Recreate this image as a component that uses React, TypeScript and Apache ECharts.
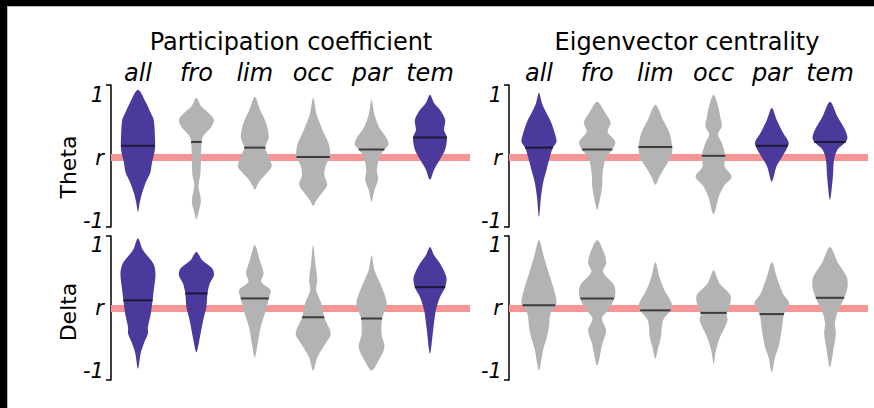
import React, { useEffect, useRef } from "react";
import * as echarts from "echarts";

const categories = ["all", "fro", "lim", "occ", "par", "tem"];
const panelTitles = ["Participation coefficient", "Eigenvector centrality"];
const rowNames = ["Theta", "Delta"];
const yTickValues = [-1, 0, 1];
const yTickLabels = ["-1", "r", "1"];
const referenceR = 0;

// Violin outlines: [r value, half width in category units], top -> bottom
// Theta, participation coefficient
const thetaPartAll = [[1.08, 0], [0.87, 0.14], [0.71, 0.22], [0.6, 0.27], [0.33, 0.29], [0.13, 0.29], [-0.08, 0.24], [-0.24, 0.21], [-0.4, 0.13], [-0.56, 0.07], [-0.71, 0.03], [-0.86, 0]];
const thetaPartFro = [[0.95, 0], [0.82, 0.08], [0.7, 0.22], [0.6, 0.3], [0.48, 0.25], [0.35, 0.12], [0.25, 0.09], [0.05, 0.08], [-0.25, 0.07], [-0.45, 0.035], [-0.62, 0.07], [-0.72, 0.075], [-0.85, 0.04], [-0.98, 0]];
const thetaPartLim = [[0.97, 0], [0.76, 0.09], [0.56, 0.19], [0.33, 0.24], [0.16, 0.18], [0.02, 0.24], [-0.14, 0.29], [-0.24, 0.21], [-0.35, 0.1], [-0.46, 0.03], [-0.51, 0]];
const thetaPartOcc = [[0.95, 0], [0.68, 0.06], [0.44, 0.16], [0.21, 0.27], [0.02, 0.29], [-0.11, 0.22], [-0.27, 0.19], [-0.43, 0.24], [-0.56, 0.15], [-0.67, 0.06], [-0.76, 0]];
const thetaPartPar = [[0.92, 0], [0.68, 0.05], [0.48, 0.13], [0.32, 0.25], [0.21, 0.29], [0.13, 0.22], [0.02, 0.14], [-0.19, 0.09], [-0.35, 0.11], [-0.51, 0.05], [-0.7, 0]];
const thetaPartTem = [[1.0, 0], [0.87, 0.07], [0.76, 0.17], [0.6, 0.26], [0.44, 0.24], [0.32, 0.29], [0.13, 0.26], [-0.03, 0.17], [-0.19, 0.07], [-0.35, 0]];
const thetaPartMedian = [0.19, 0.25, 0.16, 0.01, 0.13, 0.32];
const thetaPartSig = [1, 0, 0, 0, 0, 1];

// Theta, eigenvector centrality
const thetaEigAll = [[1.03, 0], [0.87, 0.05], [0.76, 0.1], [0.56, 0.21], [0.33, 0.29], [0.25, 0.3], [0.16, 0.24], [0.02, 0.19], [-0.19, 0.13], [-0.4, 0.07], [-0.62, 0.035], [-0.94, 0]];
const thetaEigFro = [[0.89, 0], [0.71, 0.14], [0.56, 0.23], [0.41, 0.18], [0.25, 0.31], [0.13, 0.26], [0.0, 0.15], [-0.14, 0.11], [-0.3, 0.09], [-0.46, 0.085], [-0.62, 0.055], [-0.83, 0]];
const thetaEigLim = [[0.84, 0], [0.6, 0.13], [0.4, 0.24], [0.17, 0.29], [0.02, 0.27], [-0.14, 0.17], [-0.3, 0.07], [-0.43, 0]];
const thetaEigOcc = [[1.0, 0], [0.81, 0.08], [0.65, 0.115], [0.49, 0.14], [0.37, 0.075], [0.24, 0.14], [0.03, 0.2], [-0.14, 0.19], [-0.3, 0.31], [-0.46, 0.17], [-0.62, 0.09], [-0.9, 0]];
const thetaEigPar = [[0.79, 0], [0.6, 0.085], [0.4, 0.19], [0.24, 0.29], [0.13, 0.25], [0.02, 0.18], [-0.14, 0.08], [-0.38, 0]];
const thetaEigTem = [[0.89, 0], [0.65, 0.13], [0.44, 0.26], [0.32, 0.3], [0.25, 0.27], [0.13, 0.13], [-0.03, 0.07], [-0.3, 0.05], [-0.67, 0]];
const thetaEigMedian = [0.16, 0.13, 0.17, 0.03, 0.19, 0.25];
const thetaEigSig = [1, 0, 0, 0, 1, 1];

// Delta, participation coefficient
const deltaPartAll = [[1.11, 0], [0.92, 0.085], [0.71, 0.26], [0.55, 0.3], [0.28, 0.27], [0.12, 0.25], [-0.09, 0.22], [-0.31, 0.17], [-0.41, 0.17], [-0.57, 0.1], [-0.73, 0.045], [-0.97, 0]];
const deltaPartFro = [[0.89, 0], [0.76, 0.1], [0.63, 0.27], [0.52, 0.3], [0.39, 0.23], [0.23, 0.19], [0.01, 0.17], [-0.2, 0.115], [-0.47, 0.06], [-0.71, 0]];
const deltaPartLim = [[1.0, 0], [0.76, 0.085], [0.55, 0.15], [0.41, 0.11], [0.28, 0.27], [0.15, 0.24], [-0.04, 0.19], [-0.31, 0.1], [-0.57, 0.05], [-0.79, 0]];
const deltaPartOcc = [[1.0, 0], [0.68, 0.04], [0.44, 0.07], [0.28, 0.05], [0.07, 0.14], [-0.15, 0.19], [-0.41, 0.3], [-0.57, 0.21], [-0.79, 0.07], [-1.0, 0]];
const deltaPartPar = [[0.84, 0], [0.6, 0.05], [0.36, 0.16], [0.07, 0.26], [-0.17, 0.18], [-0.41, 0.17], [-0.63, 0.22], [-0.84, 0.12], [-1.0, 0]];
const deltaPartTem = [[0.97, 0], [0.84, 0.07], [0.71, 0.17], [0.49, 0.28], [0.33, 0.26], [0.17, 0.17], [-0.04, 0.1], [-0.31, 0.06], [-0.73, 0]];
const deltaPartMedian = [0.12, 0.23, 0.15, -0.15, -0.17, 0.33];
const deltaPartSig = [1, 1, 0, 0, 0, 1];

// Delta, eigenvector centrality
const deltaEigAll = [[1.08, 0], [0.81, 0.085], [0.55, 0.17], [0.28, 0.26], [0.07, 0.3], [-0.09, 0.2], [-0.31, 0.17], [-0.47, 0.135], [-0.68, 0.07], [-1.0, 0]];
const deltaEigFro = [[1.08, 0], [0.87, 0.12], [0.71, 0.155], [0.57, 0.1], [0.36, 0.29], [0.2, 0.31], [0.04, 0.24], [-0.07, 0.155], [-0.17, 0.08], [-0.36, 0.155], [-0.57, 0.09], [-0.92, 0]];
const deltaEigLim = [[0.73, 0], [0.49, 0.07], [0.28, 0.155], [0.07, 0.28], [-0.04, 0.26], [-0.2, 0.13], [-0.47, 0.095], [-0.63, 0.05], [-0.81, 0]];
const deltaEigOcc = [[0.6, 0], [0.39, 0.1], [0.2, 0.29], [0.01, 0.27], [-0.09, 0.22], [-0.2, 0.24], [-0.47, 0.11], [-0.68, 0.04], [-0.89, 0]];
const deltaEigPar = [[0.73, 0], [0.49, 0.085], [0.23, 0.19], [0.07, 0.3], [-0.1, 0.21], [-0.36, 0.17], [-0.63, 0.115], [-0.79, 0.055], [-1.03, 0]];
const deltaEigTem = [[0.97, 0], [0.71, 0.14], [0.49, 0.29], [0.33, 0.3], [0.15, 0.24], [-0.04, 0.14], [-0.25, 0.085], [-0.41, 0.1], [-0.63, 0.065], [-0.95, 0]];
const deltaEigMedian = [0.04, 0.15, -0.04, -0.08, -0.1, 0.16];
const deltaEigSig = [0, 0, 0, 0, 0, 0];

const PURPLE = "#4b3a9b";
const GRAY = "#b3b3b3";
const RED = "#f79595";
const FONT = "DejaVu Sans";

const panels = [
  { shapes: [thetaPartAll, thetaPartFro, thetaPartLim, thetaPartOcc, thetaPartPar, thetaPartTem], medians: thetaPartMedian, sig: thetaPartSig },
  { shapes: [thetaEigAll, thetaEigFro, thetaEigLim, thetaEigOcc, thetaEigPar, thetaEigTem], medians: thetaEigMedian, sig: thetaEigSig },
  { shapes: [deltaPartAll, deltaPartFro, deltaPartLim, deltaPartOcc, deltaPartPar, deltaPartTem], medians: deltaPartMedian, sig: deltaPartSig },
  { shapes: [deltaEigAll, deltaEigFro, deltaEigLim, deltaEigOcc, deltaEigPar, deltaEigTem], medians: deltaEigMedian, sig: deltaEigSig },
];

function widthAt(knots: number[][], v: number) {
  for (let k = 0; k < knots.length - 1; k++) {
    const [v1, w1] = knots[k];
    const [v2, w2] = knots[k + 1];
    if ((v <= v1 && v >= v2) || (v >= v1 && v <= v2)) {
      const t = v1 === v2 ? 0 : (v - v1) / (v2 - v1);
      return w1 + t * (w2 - w1);
    }
  }
  return 0;
}

export default function App() {
  const ref = useRef<HTMLDivElement>(null);
  useEffect(() => {
    document.body.style.margin = "0";
    const chart = echarts.init(ref.current!, undefined, { renderer: "svg" });

    const grids = [
      { left: 111, top: 85, width: 359, height: 142 },
      { left: 509, top: 85, width: 359, height: 142 },
      { left: 111, top: 236, width: 359, height: 144 },
      { left: 509, top: 236, width: 359, height: 144 },
    ];
    const xRanges = [[-0.462, 5.685], [-0.515, 5.653], [-0.462, 5.685], [-0.515, 5.653]];
    const yRanges = [[-1.1, 1.154], [-1.1, 1.154], [-1.15, 1.145], [-1.15, 1.145]];

    const xAxis = grids.map((_, g) => ({
      type: "value",
      gridIndex: g,
      min: xRanges[g][0],
      max: xRanges[g][1],
      position: "top",
      show: g < 2,
      axisLine: { show: false, onZero: false },
      axisTick: { show: false },
      splitLine: { show: false },
      axisLabel: {
        show: g < 2,
        customValues: categories.map((_, i) => i),
        formatter: (v: number) => categories[Math.round(v)] ?? "",
        fontFamily: FONT,
        fontStyle: "italic",
        fontSize: 24,
        color: "#000",
        margin: 0,
      },
    }));

    const yAxis = grids.map((_, g) => ({
      type: "value",
      gridIndex: g,
      min: yRanges[g][0],
      max: yRanges[g][1],
      position: "left",
      axisLine: { show: true, onZero: false, lineStyle: { color: "#000", width: 1.5 } },
      axisTick: {
        show: true,
        customValues: [yRanges[g][0], yRanges[g][1]],
        length: 5,
        lineStyle: { color: "#000", width: 1.5 },
      },
      splitLine: { show: false },
      axisLabel: {
        customValues: yTickValues,
        formatter: (v: number) => yTickLabels[yTickValues.indexOf(Math.round(v))] ?? "",
        fontFamily: FONT,
        fontStyle: "italic",
        fontSize: 21,
        color: "#000",
        margin: 7,
      },
    }));

    const series: any[] = [];
    grids.forEach((_, g) => {
      series.push({
        type: "line",
        xAxisIndex: g,
        yAxisIndex: g,
        data: [],
        z: 1,
        silent: true,
        markLine: {
          silent: true,
          z: 1,
          symbol: ["none", "none"],
          label: { show: false },
          lineStyle: { color: RED, width: 7, type: "solid", opacity: 1 },
          emphasis: { disabled: true },
          data: [{ yAxis: referenceR }],
        },
      });
      const panel = panels[g];
      series.push({
        type: "custom",
        xAxisIndex: g,
        yAxisIndex: g,
        z: 10,
        clip: false,
        silent: true,
        data: categories.map((_, i) => [i, panel.medians[i]]),
        encode: { x: 0, y: 1 },
        renderItem: (params: any, api: any) => {
          const i = api.value(0);
          const knots = panel.shapes[i];
          const cx = api.coord([i, 0])[0];
          const pts: number[][] = [];
          knots.forEach(([v, w]) => {
            const y = api.coord([i, v])[1];
            const dx = api.size([w, 0])[0];
            pts.push([cx + dx, y]);
          });
          for (let k = knots.length - 2; k >= 1; k--) {
            const [v, w] = knots[k];
            const y = api.coord([i, v])[1];
            const dx = api.size([w, 0])[0];
            pts.push([cx - dx, y]);
          }
          const m = panel.medians[i];
          const my = api.coord([i, m])[1];
          const mw = api.size([widthAt(knots, m), 0])[0];
          const sig = panel.sig[i] === 1;
          return {
            type: "group",
            children: [
              {
                type: "polygon",
                shape: { points: pts, smooth: 0.3 },
                style: { fill: sig ? PURPLE : GRAY, stroke: "none" },
              },
              {
                type: "line",
                shape: { x1: cx - mw, y1: my, x2: cx + mw, y2: my },
                style: { stroke: sig ? "#1c1a33" : "#3c3c3c", lineWidth: 2 },
              },
            ],
          };
        },
      });
    });

    const graphic: any[] = [
      { type: "rect", shape: { x: 0, y: 0, width: 874, height: 6 }, style: { fill: "#000" }, silent: true },
      { type: "rect", shape: { x: 0, y: 0, width: 7, height: 408 }, style: { fill: "#000" }, silent: true },
      { type: "rect", shape: { x: 7, y: 6, width: 867, height: 1 }, style: { fill: "#bbbbbb" }, silent: true },
      { type: "rect", shape: { x: 7, y: 6, width: 1, height: 402 }, style: { fill: "#bbbbbb" }, silent: true },
      {
        type: "text", x: 291, y: 42,
        style: { text: panelTitles[0], font: `24px "${FONT}"`, fill: "#000", align: "center", verticalAlign: "middle" },
      },
      {
        type: "text", x: 687, y: 42,
        style: { text: panelTitles[1], font: `24px "${FONT}"`, fill: "#000", align: "center", verticalAlign: "middle" },
      },
      {
        type: "text", x: 68, y: 167, rotation: Math.PI / 2,
        style: { text: rowNames[0], font: `22px "${FONT}"`, fill: "#000", align: "center", verticalAlign: "middle" },
      },
      {
        type: "text", x: 68, y: 312, rotation: Math.PI / 2,
        style: { text: rowNames[1], font: `22px "${FONT}"`, fill: "#000", align: "center", verticalAlign: "middle" },
      },
    ];

    chart.setOption({
      animation: false,
      backgroundColor: "#ffffff",
      grid: grids,
      xAxis,
      yAxis,
      series,
      graphic,
    });
    return () => chart.dispose();
  }, []);
  return <div ref={ref} style={{ width: 874, height: 408 }} />;
}
